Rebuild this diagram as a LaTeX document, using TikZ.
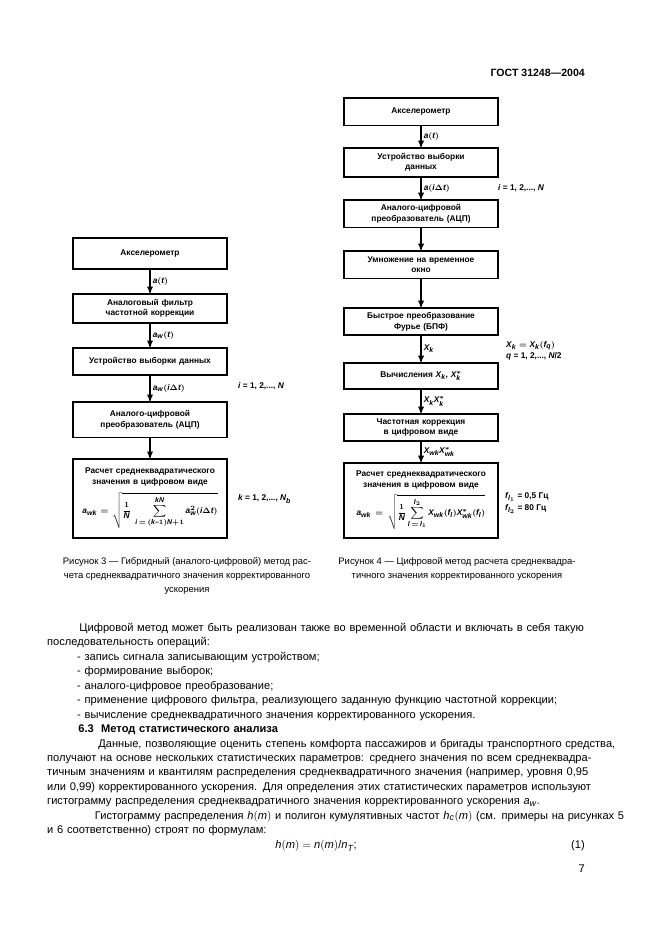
\documentclass[tikz,border=0pt]{standalone}
\usepackage{amsmath}
\usepackage{fontspec}
\setmainfont{Liberation Sans}
\usepackage[italic]{mathastext}
\usetikzlibrary{arrows,positioning}
\newcommand{\jl}[1]{\makebox[\linewidth][s]{#1}}
\tikzset{
    %Define standard arrow tip
    >=stealth',
    %Define style for boxes
    blk/.style={
           rectangle, anchor=north,
           draw=black, line width=1.5pt,
           minimum width=139pt,
           text width=132pt,
           inner sep=1pt,
           align=center,
           font=\fontsize{7.5}{9.8}\selectfont\bfseries\boldmath},
    % Define arrow style
    pil/.style={
           ->,
           line width=1.1pt},
    % signal labels
    sig/.style={right, inner sep=2pt,
           font=\fontsize{7.5}{9}\selectfont\bfseries\boldmath},
    side/.style={anchor=west, inner sep=0pt,
           font=\fontsize{7.5}{10.5}\selectfont\bfseries\boldmath},
    capt/.style={anchor=north, align=center, inner sep=0pt,
           font=\fontsize{8.5}{12.8}\selectfont}
}
\begin{document}
\begin{tikzpicture}[x=0.9pt,y=-0.9pt]
\useasboundingbox (0,0) rectangle (661,936);
\node[anchor=east, inner sep=0pt, font=\fontsize{9.5}{11}\selectfont\bfseries] (gost) at (585,73) {ГОСТ 31248—2004};

%Nodes, figure 3
\node[blk, minimum height=28pt] (lacc) at (150,237) {Акселерометр};
\node[blk, minimum height=26pt] (lflt) at (150,293) {Аналоговый фильтр\\частотной коррекции};
\node[blk, minimum height=24.5pt] (lsmp) at (150,347) {Устройство выборки данных};
\node[blk, minimum height=32pt] (ladc) at (150,401) {Аналого-цифровой\\преобразователь (АЦП)};
\node[blk, minimum height=71pt] (lrms) at (150,458) {Расчет среднеквадратического\\значения в цифровом виде\\[5pt]
  $\displaystyle a_{wk}=\sqrt{\frac{1}{N}\ \sum_{i\,=\,(k-1)N+1}^{kN}a_w^2(i\Delta t)}$};
\draw[pil] (lacc) -- node[sig] {$a(t)$} (lflt);
\draw[pil] (lflt) -- node[sig] {$a_w(t)$} (lsmp);
\draw[pil] (lsmp) -- node[sig] {$a_w(i\Delta t)$} (ladc);
\draw[pil] (ladc) -- (lrms);
\node[side] (lidx) at (238,386) {$i$ = 1, 2,..., $N$};
\node[side] (lkdx) at (238,499) {$k$ = 1, 2,..., $N_b$};
\node[capt] (lcap) at (187,557) {Рисунок 3 — Гибридный (аналого-цифровой) метод рас-\\чета среднеквадратичного значения корректированного\\ускорения};

%Nodes, figure 4
\node[blk, minimum height=25pt] (racc) at (421,97) {Акселерометр};
\node[blk, minimum height=26pt] (rsmp) at (421,147) {Устройство выборки\\данных};
\node[blk, minimum height=25pt] (radc) at (421,199) {Аналого-цифровой\\преобразователь (АЦП)};
\node[blk, minimum height=25pt] (rwin) at (421,250) {Умножение на временное\\окно};
\node[blk, minimum height=24.5pt] (rfft) at (421,307) {Быстрое преобразование\\Фурье (БПФ)};
\node[blk, minimum height=23.5pt] (rxx) at (421,362) {Вычисления $X_k$, $X_k^*$};
\node[blk, minimum height=24.5pt] (rcor) at (421,413) {Частотная коррекция\\в цифровом виде};
\node[blk, minimum height=67.5pt] (rrms) at (421,462) {Расчет среднеквадратического\\значения в цифровом виде\\[4pt]
  $\displaystyle a_{wk}=\sqrt{\frac{1}{N}\sum_{l\,=\,l_1}^{l_2}X_{wk}(f_l)X_{wk}^*(f_l)}$};
\draw[pil] (racc) -- node[sig] {$a(t)$} (rsmp);
\draw[pil] (rsmp) -- node[sig] {$a(i\Delta t)$} (radc);
\draw[pil] (radc) -- (rwin);
\draw[pil] (rwin) -- (rfft);
\draw[pil] (rfft) -- node[sig] {$X_k$} (rxx);
\draw[pil] (rxx) -- node[sig] {$X_k X_k^*$} (rcor);
\draw[pil] (rcor) -- node[sig] {$X_{wk} X_{wk}^*$} (rrms);
\node[side] (ridx) at (498,188) {$i$ = 1, 2,..., $N$};
\node[side, align=left] (rfq) at (506,351) {$X_k = X_k(f_q)$\\$q$ = 1, 2,..., $N$/2};
\node[side, align=left] (rfl) at (505,503) {$f_{l_1}$ = 0,5 Гц\\$f_{l_2}$ = 80 Гц};
\node[capt] (rcap) at (457,557) {Рисунок 4 — Цифровой метод расчета среднеквадра-\\тичного значения корректированного ускорения};

%Text
\node[anchor=north west, inner sep=0pt, text width=484pt, align=left,
      font=\fontsize{10}{13}\selectfont] (body) at (47,623) {%
\jl{\hspace*{29pt}Цифровой метод может быть реализован также во временной области и включать в себя такую}\\
последовательность операций:\\
\hspace*{27pt}- запись сигнала записывающим устройством;\\
\hspace*{27pt}- формирование выборок;\\
\hspace*{27pt}- аналого-цифровое преобразование;\\
\hspace*{27pt}- применение цифрового фильтра, реализующего заданную функцию частотной коррекции;\\
\hspace*{27pt}- вычисление среднеквадратичного значения корректированного ускорения.\\
\hspace*{28pt}\textbf{6.3\ \ Метод статистического анализа}\\
\jl{\hspace*{46pt}Данные, позволяющие оценить степень комфорта пассажиров и бригады транспортного средства,}\\
\jl{получают на основе нескольких статистических параметров: среднего значения по всем среднеквадра-}\\
\jl{тичным значениям и квантилям распределения среднеквадратичного значения (например, уровня 0,95}\\
\jl{или 0,99) корректированного ускорения. Для определения этих статистических параметров используют}\\
гистограмму распределения среднеквадратичного значения корректированного ускорения $a_w$.\\
\jl{\hspace*{43pt}Гистограмму распределения $h(m)$ и полигон кумулятивных частот $h_c(m)$ (см. примеры на рисунках 5}\\
и 6 соответственно) строят по формулам:};
\node[font=\fontsize{10}{12}\selectfont, inner sep=0pt] (eq) at (316,846) {$h(m) = n(m)/n_T$;};
\node[anchor=east, font=\fontsize{10}{12}\selectfont, inner sep=0pt] (eqn) at (585,846) {(1)};
\node[anchor=east, font=\fontsize{10}{12}\selectfont, inner sep=0pt] (pgno) at (585,869) {7};
\end{tikzpicture}
\end{document}
